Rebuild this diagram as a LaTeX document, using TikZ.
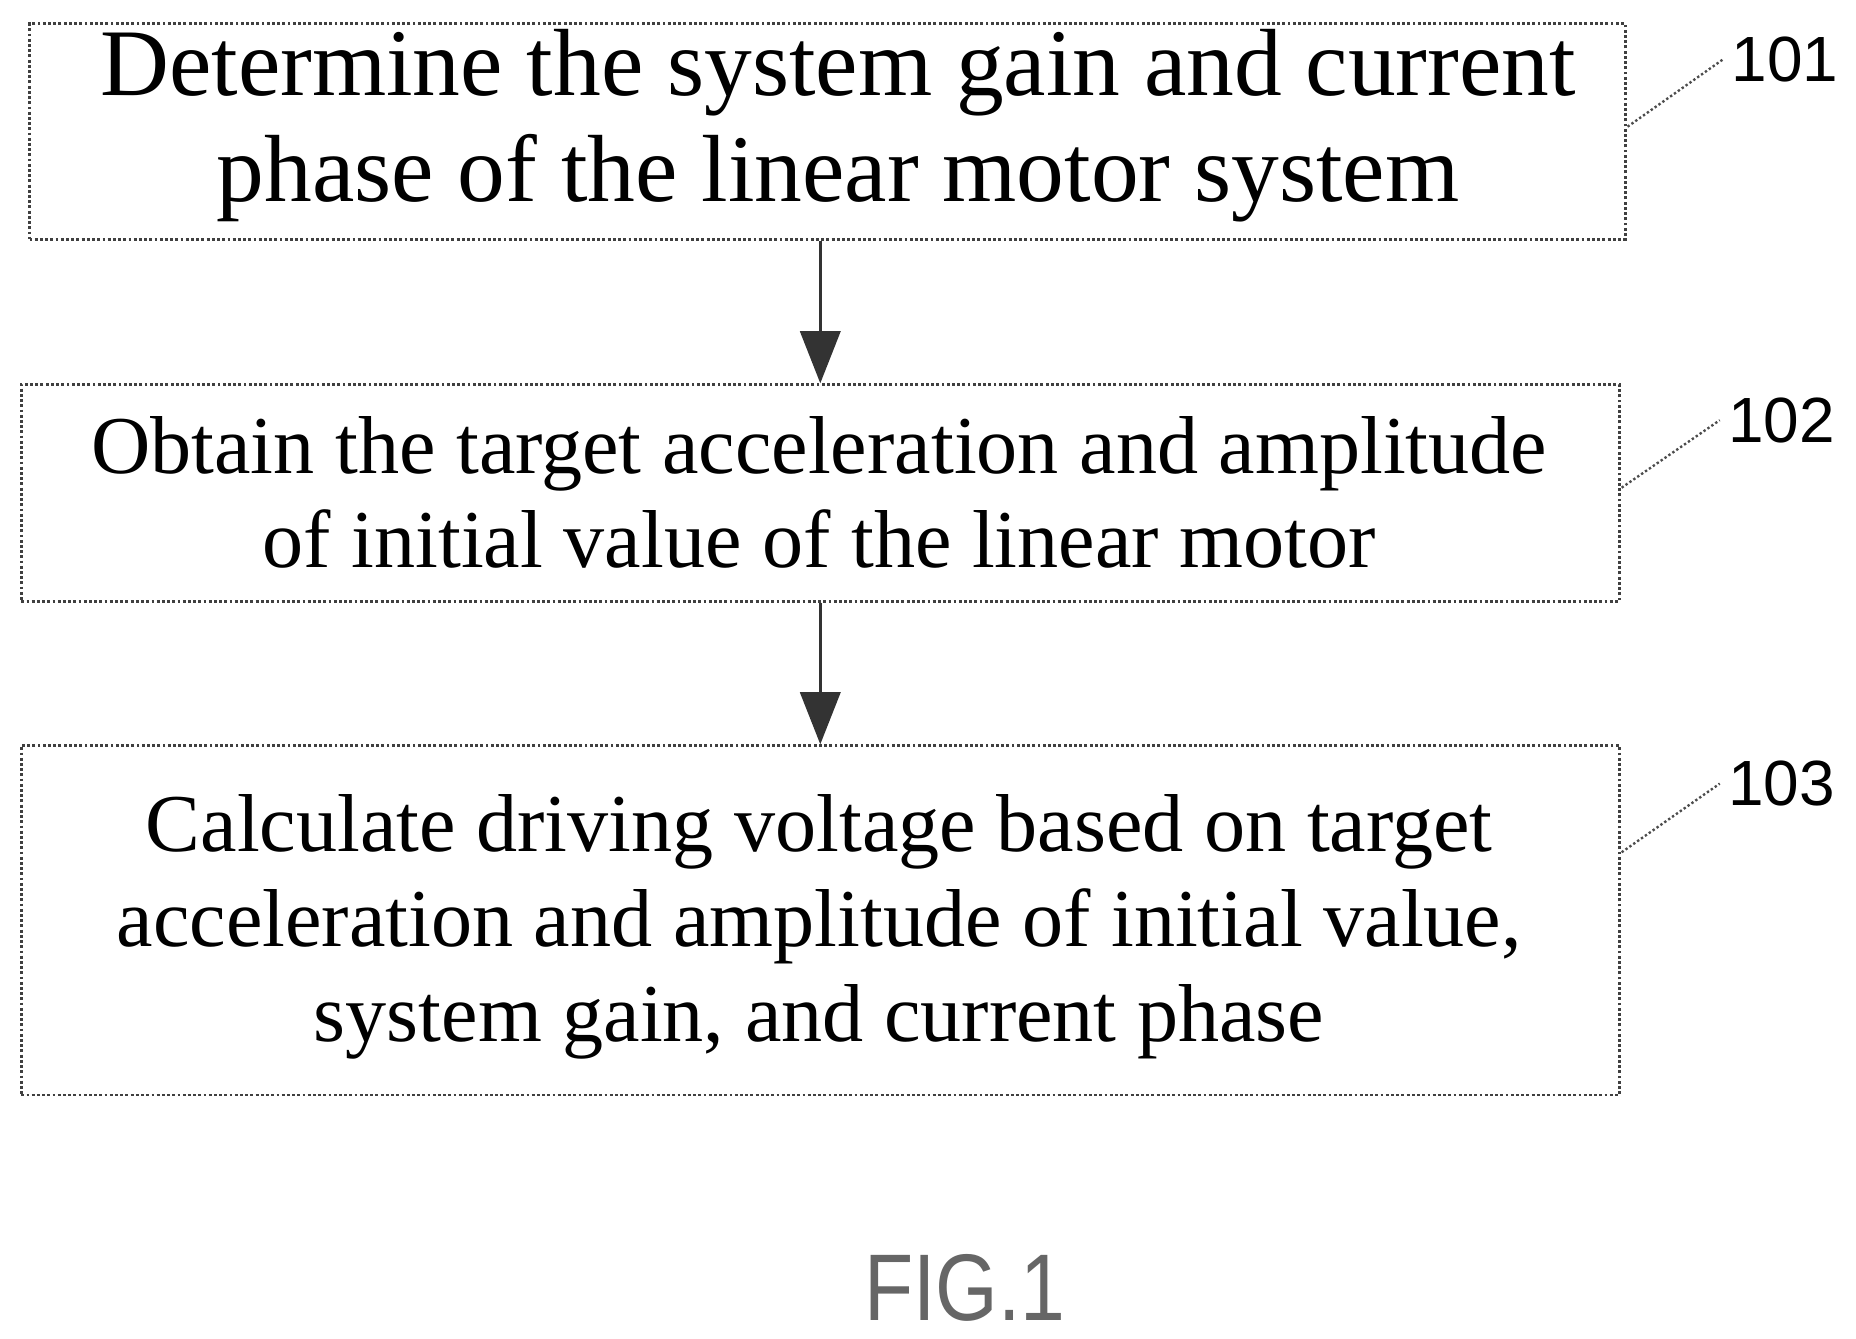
\documentclass[tikz,border=0pt]{standalone}
\usepackage{fontspec}
\setmainfont{Liberation Serif}
\setsansfont{Liberation Sans}
\usetikzlibrary{arrows.meta}
\begin{document}
\begin{tikzpicture}[x=0.5pt,y=-0.5pt,
  box/.style={draw=black!75,line width=1.2pt,densely dotted,inner sep=0pt},
  txt/.style={align=center,font=\fontsize{34.7}{40}\selectfont},
  lbl/.style={font=\sffamily\fontsize{27}{30}\selectfont},
  lead/.style={draw=black!70,line width=1pt,densely dotted},
  arr/.style={draw=black!80,line width=1.2pt,-{Triangle[length=22pt,width=17pt]}}]
\useasboundingbox (0,0) rectangle (1568,1131);
\node[box,minimum width=674pt,minimum height=91pt] (b1) at (699,111) {};
\node[txt,font=\fontsize{40.3}{45}\selectfont] (t1) at (708,106) {Determine the system gain and current\\phase of the linear motor system};
\node[box,minimum width=675pt,minimum height=91.5pt] (b2) at (693,416.5) {};
\node[txt] (t2) at (692,416) {Obtain the target acceleration and amplitude\\of initial value of the linear motor};
\node[box,minimum width=675pt,minimum height=147.5pt] (b3) at (693,777.5) {};
\node[txt] (t3) at (692,783) {Calculate driving voltage based on target\\acceleration and amplitude of initial value,\\system gain, and current phase};
\draw[arr] (b2.north |- b1.south) -- (b2.north);
\draw[arr] (b2.south) -- (b3.north);
\node[lbl] (l1) at (1508,50) {101};
\node[lbl] (l2) at (1505,355) {102};
\node[lbl] (l3) at (1505,662) {103};
\coordinate (c1) at (1375,107); \coordinate (c2) at (1370,412); \coordinate (c3) at (1370,720);
\draw[lead] (c1) -- (l1.west);
\draw[lead] (c2) -- (l2.west);
\draw[lead] (c3) -- (l3.west);
\node[font=\sffamily\fontsize{40}{44}\selectfont,text=black!60,xscale=0.85] (fig) at (815,1088) {FIG.1};
\end{tikzpicture}
\end{document}
